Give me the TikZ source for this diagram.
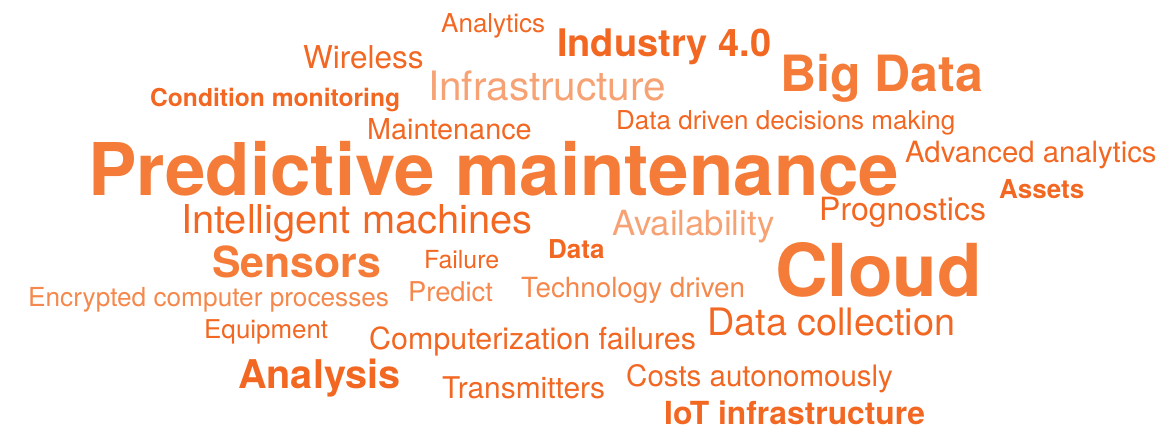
\documentclass[tikz,border=0pt]{standalone}
\usepackage{fontspec}
\setmainfont{TeX Gyre Heros}
\usepackage{tikz}
\definecolor{cdark}{HTML}{F26722}
\definecolor{cmid}{HTML}{F47C38}
\definecolor{csoft}{HTML}{F5884C}
\definecolor{cpale}{HTML}{F6A274}
\newcommand{\wsize}[1]{\fontsize{#1}{#1}\selectfont}
\tikzstyle{word}=[inner sep=0pt, anchor=base west, text=cdark]
\tikzstyle{bword}=[word, font=\bfseries]

\begin{document}
\begin{tikzpicture}[x=1pt, y=-1pt]
        \useasboundingbox (0, 0) rectangle (1159, 428);
        \node[word] (analytics) at (441, 33) {\wsize{26}Analytics};
        \node[bword] (industry) at (557, 57) {\wsize{38}Industry 4.0};
        \node[word] (wireless) at (303, 68) {\wsize{31.5}Wireless};
        \node[word, text=cpale] (infra) at (428, 100) {\wsize{40.5}Infrastructure};
        \node[bword, text=cmid] (bigdata) at (780, 92) {\wsize{50}Big Data};
        \node[bword] (condition) at (150, 106) {\wsize{24.6}Condition monitoring};
        \node[word] (maint) at (367, 139) {\wsize{28.8}Maintenance};
        \node[word] (decisions) at (616, 129) {\wsize{26}Data driven decisions making};
        \node[bword, text=cmid] (predmaint) at (88, 195) {\wsize{72.7}Predictive maintenance};
        \node[word] (advanced) at (905, 162) {\wsize{29.3}Advanced analytics};
        \node[bword] (assets) at (999, 198) {\wsize{26}Assets};
        \node[word] (intell) at (181, 233) {\wsize{39.8}Intelligent machines};
        \node[word, text=cpale] (avail) at (612, 235) {\wsize{34.7}Availability};
        \node[word] (progn) at (819, 220) {\wsize{32}Prognostics};
        \node[bword, text=cmid] (sensors) at (212, 277) {\wsize{42.8}Sensors};
        \node[word] (failure) at (424, 268) {\wsize{24.9}Failure};
        \node[bword] (data) at (548, 258) {\wsize{26}Data};
        \node[bword, text=cmid] (cloud) at (775, 296) {\wsize{73}Cloud};
        \node[word, text=csoft] (encrypted) at (28, 306) {\wsize{26.2}Encrypted computer processes};
        \node[word, text=csoft] (predict) at (408, 301) {\wsize{27.3}Predict};
        \node[word, text=csoft] (techdriven) at (521, 297) {\wsize{27.8}Technology driven};
        \node[word] (equip) at (204, 338) {\wsize{25.9}Equipment};
        \node[word] (compfail) at (369, 349) {\wsize{30.4}Computerization failures};
        \node[word] (datacoll) at (707, 335) {\wsize{37.8}Data collection};
        \node[bword] (analysis) at (238, 388) {\wsize{39.6}Analysis};
        \node[word] (transm) at (442, 398) {\wsize{29.9}Transmitters};
        \node[word] (costs) at (626, 386) {\wsize{29.5}Costs autonomously};
        \node[bword, text depth=0pt] (iot) at (664, 424) {\wsize{31.8}IoT infrastructure};
    \end{tikzpicture}
\end{document}
